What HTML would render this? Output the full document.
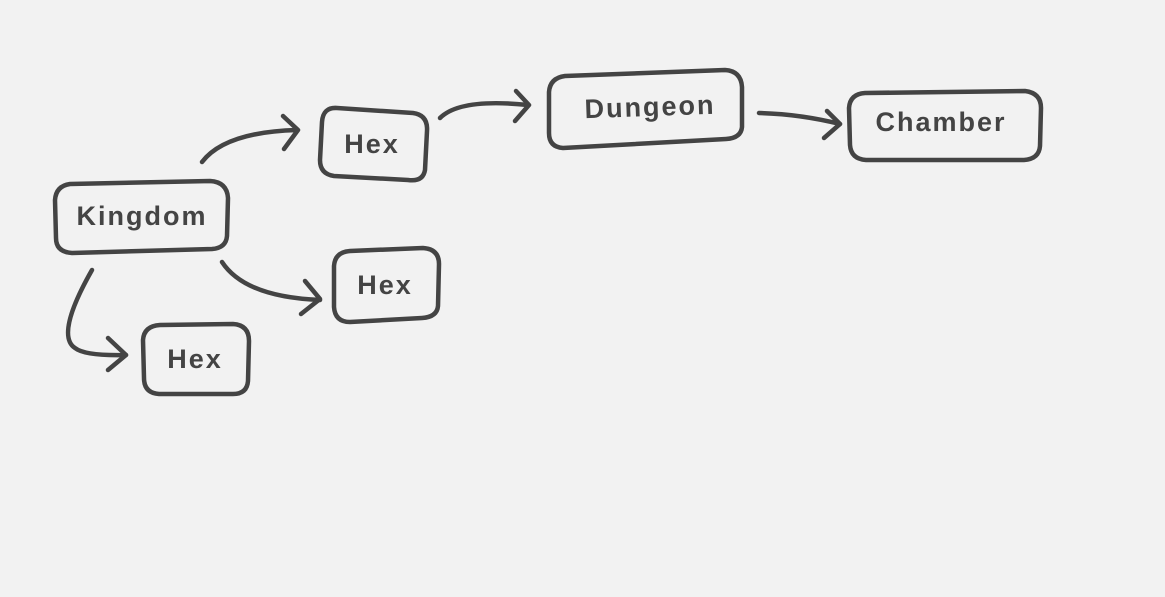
<!DOCTYPE html>
<html><head><style>
html,body{margin:0;padding:0;background:#f2f2f2;}
svg{display:block;}
text{font-family:"Liberation Sans",sans-serif;font-size:27px;font-weight:bold;fill:#444;letter-spacing:2px;text-anchor:middle;dominant-baseline:central;}
</style></head><body>
<svg width="1165" height="597" viewBox="0 0 1165 597" xmlns="http://www.w3.org/2000/svg">
<rect width="1165" height="597" fill="#f2f2f2"/>
<g fill="none" stroke="#444" stroke-width="4.5" stroke-linecap="round" stroke-linejoin="round">
<path d="M70 184 L210 181 Q227 182 228 198 L227 236 Q226 248 212 249 L72 253 Q56 252 56 238 L55 200 Q56 186 70 184 Z"/>
<path d="M337 108 L413 113 Q428 115 427 131 L425 170 Q423 182 408 180 L334 176 Q320 174 320 160 L322 122 Q323 107 337 108 Z"/>
<path d="M350 251 L423 248 Q439 249 439 264 L438 306 Q437 317 422 318 L350 322 Q335 322 334 307 L334 266 Q335 252 350 251 Z"/>
<path d="M160 325 L233 324 Q249 325 249 341 L248 381 Q247 394 233 394 L159 394 Q144 393 144 378 L143 340 Q144 326 160 325 Z"/>
<path d="M565 76 L725 70 Q741 71 742 87 L742 127 Q741 138 726 139 L563 148 Q549 147 549 133 L549 92 Q550 78 565 76 Z"/>
<path d="M865 93 L1025 91 Q1041 93 1041 108 L1040 146 Q1039 159 1024 160 L866 160 Q851 159 850 145 L849 108 Q850 94 865 93 Z"/>
<path d="M202 162 Q225 132 297 130"/><path d="M283 116 L298 130 L284 149"/>
<path d="M222 262 Q245 297 320 300"/><path d="M305 281 L320 299 L301 314"/>
<path d="M92 270 Q55 335 75 348 Q85 356 126 355"/><path d="M108 338 L126 355 L108 370"/>
<path d="M440 118 Q460 98 528 105"/><path d="M516 91 L529 105 L515 121"/>
<path d="M759 113 Q800 114 840 124"/><path d="M827 111 L840 124 L824 138"/>
</g>
<text x="142" y="216">Kingdom</text>
<text x="372" y="144">Hex</text>
<text x="385" y="285">Hex</text>
<text x="195" y="359">Hex</text>
<text x="650" y="107" transform="rotate(-2 650 107)">Dungeon</text>
<text x="941" y="122">Chamber</text>
</svg>
</body></html>
